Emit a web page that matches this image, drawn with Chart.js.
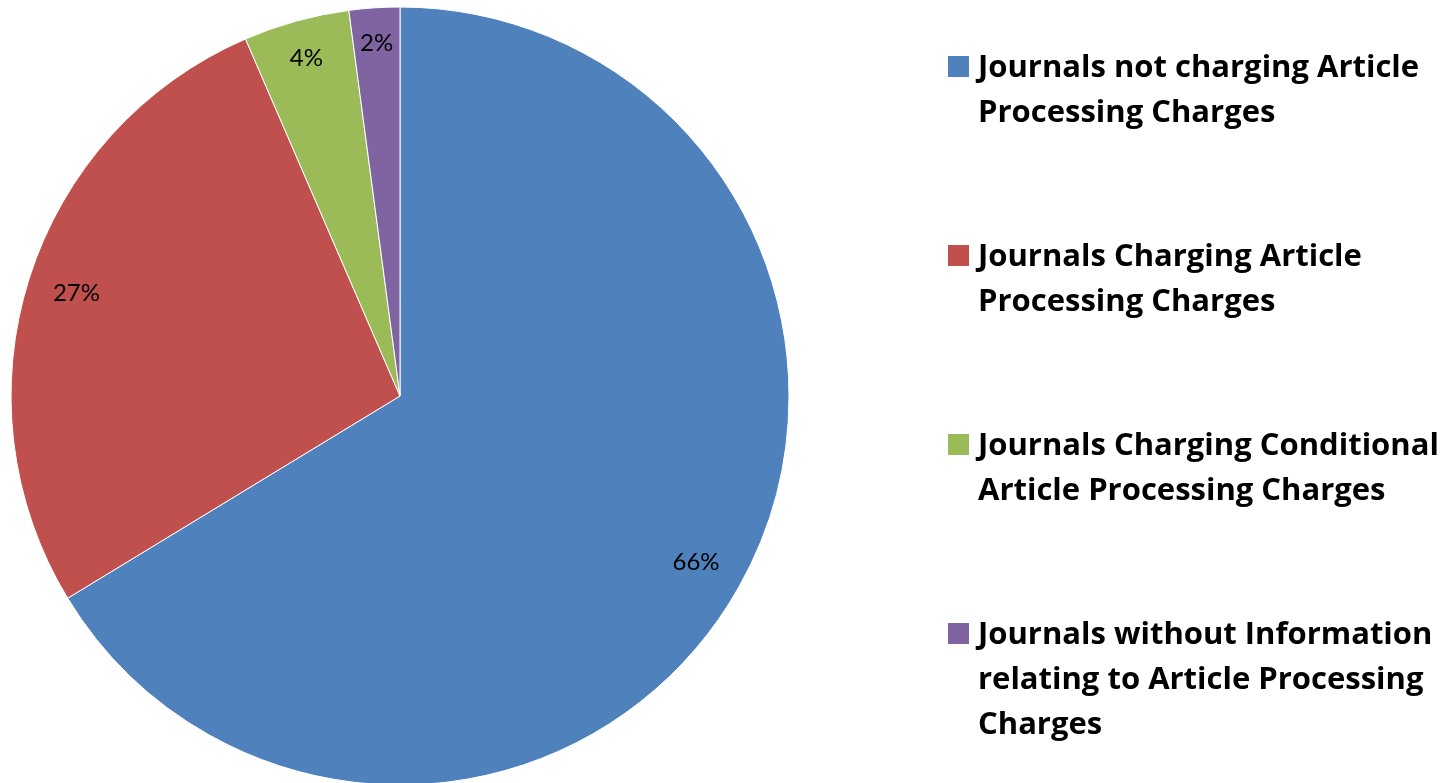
<!DOCTYPE html>
<html>
<head>
<meta charset="utf-8">
<script src="https://cdn.jsdelivr.net/npm/chart.js@4/dist/chart.umd.min.js"></script>
<style>
  html, body { margin: 0; padding: 0; background: #ffffff; overflow: hidden; }
  #wrap { width: 1443px; height: 783px; position: relative; }
</style>
</head>
<body>
<div id="wrap"><canvas id="c" width="1443" height="783"></canvas></div>
<script>
// ---- data ----
const categories = [
  "Journals not charging Article Processing Charges",
  "Journals Charging Article Processing Charges",
  "Journals Charging Conditional Article Processing Charges",
  "Journals without Information relating to Article Processing Charges"
];
const shares = [66.3, 27.2, 4.4, 2.1];
const sliceColors = ["#4F81BD", "#C0504D", "#9BBB59", "#8064A2"];

// ---- percentage labels inside slices ----
const pctLabels = {
  id: "pctLabels",
  afterDatasetsDraw(chart) {
    const ctx = chart.ctx;
    const meta = chart.getDatasetMeta(0);
    const data = chart.data.datasets[0].data;
    const total = data.reduce((a, b) => a + b, 0);
    ctx.save();
    ctx.font = "24px Lato";
    ctx.fillStyle = "#000000";
    ctx.textAlign = "center";
    ctx.textBaseline = "middle";
    meta.data.forEach((arc, i) => {
      const p = arc.getProps(["x", "y", "startAngle", "endAngle", "outerRadius"], true);
      const mid = (p.startAngle + p.endAngle) / 2;
      const txt = Math.round(data[i] / total * 100) + "%";
      const hw = ctx.measureText(txt).width / 2;
      const hh = 10;
      const d = 24 + hw * Math.abs(Math.cos(mid)) + hh * Math.abs(Math.sin(mid));
      const r = p.outerRadius - d;
      ctx.fillText(txt, p.x + Math.cos(mid) * r, p.y + Math.sin(mid) * r);
    });
    ctx.restore();
  }
};

// ---- legend on the right ----
const sideLegend = {
  id: "sideLegend",
  afterDraw(chart) {
    const ctx = chart.ctx;
    const labels = chart.data.labels;
    const colors = chart.data.datasets[0].backgroundColor;
    const boxX = 948, textX = 978, box = 21;
    const firstBase = 77, entryGap = 189, lineH = 45;
    const maxW = chart.width - textX;
    ctx.save();
    ctx.font = "bold 31px 'Open Sans'";
    ctx.fillStyle = "#000000";
    ctx.textAlign = "left";
    ctx.textBaseline = "alphabetic";
    labels.forEach((lab, i) => {
      const words = lab.split(" ");
      const lines = [];
      let cur = "";
      words.forEach(w => {
        const t = cur ? cur + " " + w : w;
        if (ctx.measureText(t).width > maxW && cur) { lines.push(cur); cur = w; }
        else cur = t;
      });
      if (cur) lines.push(cur);
      const base = firstBase + i * entryGap;
      ctx.fillStyle = colors[i];
      ctx.fillRect(boxX, base - box, box, box);
      ctx.fillStyle = "#000000";
      lines.forEach((ln, k) => ctx.fillText(ln, textX, base + k * lineH));
    });
    ctx.restore();
  }
};

new Chart(document.getElementById("c"), {
  type: "pie",
  data: {
    labels: categories,
    datasets: [{
      data: shares,
      backgroundColor: sliceColors,
      borderColor: "#ffffff",
      borderWidth: 1
    }]
  },
  options: {
    responsive: false,
    animation: false,
    radius: 389,
    layout: { padding: { left: 11, right: 654, top: 9, bottom: 0 } },
    plugins: {
      legend: { display: false },
      tooltip: { enabled: false },
      title: { display: false }
    }
  },
  plugins: [pctLabels, sideLegend]
});
</script>
</body>
</html>
